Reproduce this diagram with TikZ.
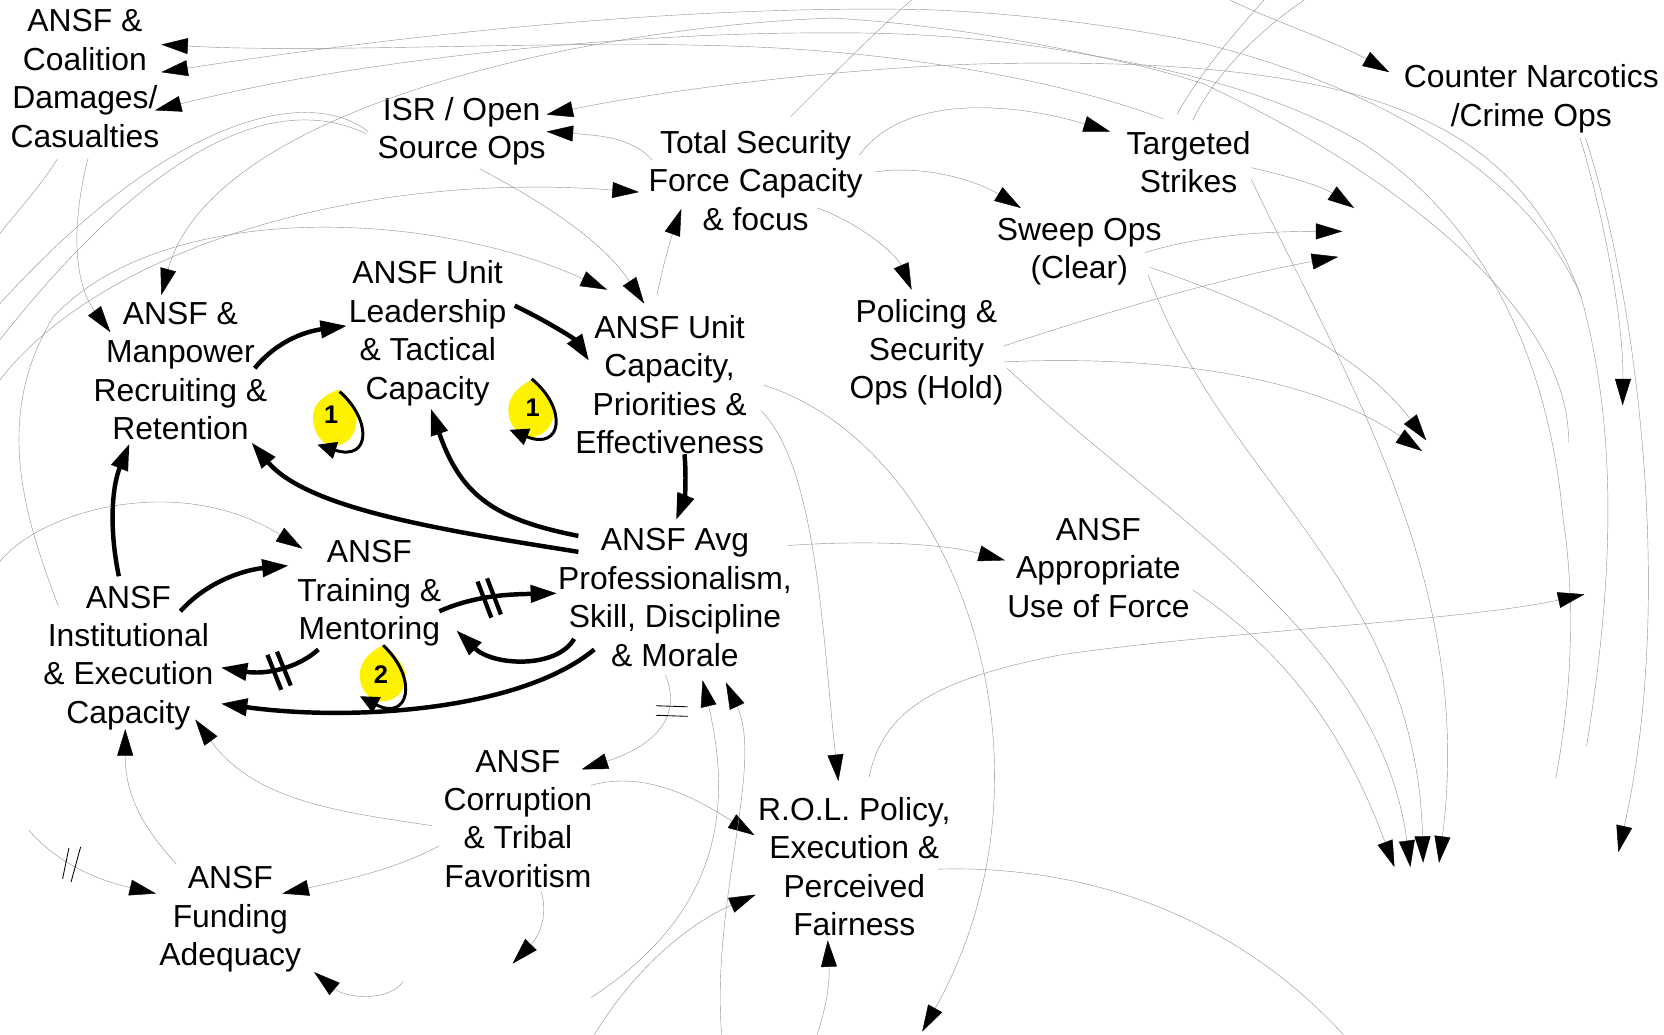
\documentclass[tikz,border=0pt]{standalone}
\usepackage{fontspec}
\setmainfont{Liberation Sans}
\usetikzlibrary{arrows.meta}
\tikzset{
  lbl/.style={inner sep=0pt,align=center,font=\fontsize{15}{18.1}\selectfont},
  num/.style={inner sep=0pt,font=\bfseries\fontsize{12}{12}\selectfont},
  thinlink/.style={line width=0.2pt,draw=black!42,-{Triangle[length=12.5pt,width=7.5pt,color=black,fill=black]}},
  thinfree/.style={line width=0.2pt,draw=black!42},
  thicklink/.style={line width=2.1pt,draw=black,-{Triangle[length=12.5pt,width=8pt,color=black,fill=black]}},
  looplink/.style={line width=1.4pt,draw=black,-{Triangle[length=9pt,width=8pt,color=black,fill=black]}},
  thinhash/.style={line width=0.4pt,draw=black},
  thickhash/.style={line width=2pt,draw=black},
  blob/.style={fill=yellow,draw=none}
}
\begin{document}
\begin{tikzpicture}[x=0.5pt,y=-0.5pt]
\useasboundingbox (0,0) rectangle (1568,975.2);
\fill[white] (0,0) rectangle (1568,975.2);
% yellow loop markers
\fill[blob] (320,367) .. controls (305,372) and (295,380) .. (295,393) .. controls (295,410) and (305,420) .. (315,420) .. controls (335,418) and (336,400) .. (336,393) .. controls (336,385) and (330,375) .. (320,367) -- cycle;
\fill[blob] (501,358) .. controls (488,364) and (479,374) .. (479,386) .. controls (479,402) and (490,412) .. (500,412) .. controls (518,410) and (522,396) .. (522,386) .. controls (522,378) and (512,366) .. (501,358) -- cycle;
\fill[blob] (361,608) .. controls (348,614) and (339,624) .. (339,636) .. controls (339,652) and (350,661) .. (360,661) .. controls (378,660) and (382,646) .. (382,636) .. controls (382,628) and (372,616) .. (361,608) -- cycle;
% variable labels
\node[lbl] (coal) at (80,74) {ANSF \&\\Coalition\\Damages/\\Casualties};
\node[lbl] (isr) at (435,123.5) {ISR / Open\\Source Ops};
\node[lbl] (total) at (712,170) {Total Security\\Force Capacity\\\& focus};
\node[lbl] (targ) at (1120,153) {Targeted\\Strikes};
\node[lbl] (counter) at (1443,93) {Counter Narcotics\\/Crime Ops};
\node[lbl] (sweep) at (1017,237) {Sweep Ops\\(Clear)};
\node[lbl] (polic) at (873,332) {Policing \&\\Security\\Ops (Hold)};
\node[lbl] (lead) at (403,314) {ANSF Unit\\Leadership\\\& Tactical\\Capacity};
\node[lbl] (manp) at (170,349.5) {ANSF \&\\Manpower\\Recruiting \&\\Retention};
\node[lbl] (ucap) at (631,362.5) {ANSF Unit\\Capacity,\\Priorities \&\\Effectiveness};
\node[lbl] (avg) at (636,563) {ANSF Avg\\Professionalism,\\Skill, Discipline\\\& Morale};
\node[lbl] (train) at (348,559) {ANSF\\Training \&\\Mentoring};
\node[lbl] (inst) at (121,620) {ANSF\\Institutional\\\& Execution\\Capacity};
\node[lbl] (appr) at (1035,535) {ANSF\\Appropriate\\Use of Force};
\node[lbl] (corr) at (488,771.5) {ANSF\\Corruption\\\& Tribal\\Favoritism};
\node[lbl] (rol) at (805,816.5) {R.O.L. Policy,\\Execution \&\\Perceived\\Fairness};
\node[lbl] (fund) at (217,866.5) {ANSF\\Funding\\Adequacy};
\node[num] (la) at (312,391) {1};
\node[num] (lb) at (502,384) {1};
\node[num] (lc) at (359,636) {2};
% free ends
\coordinate (fa) at (1495,703);
\coordinate (fb) at (1478,417);
\coordinate (fc) at (1466,733);
\coordinate (fj) at (1490,280);
\coordinate (fd) at (0,286);
\coordinate (fe) at (0,320);
\coordinate (ff) at (0,358);
\coordinate (fg) at (0,220);
\coordinate (fh) at (0,529);
\coordinate (fi) at (27,782);
\coordinate (fk) at (380,925);
\coordinate (fl) at (483,908);
\coordinate (fm) at (557,940);
\coordinate (fn) at (680,975);
\coordinate (fo) at (560,975);
\coordinate (fp) at (770,975);
\coordinate (fq) at (869,972);
\coordinate (fr) at (1493,560);
\coordinate (fs) at (1266,975);
\coordinate (ft) at (1314,817);
\coordinate (fu) at (1329,817);
\coordinate (fv) at (1341,813);
\coordinate (fw) at (1356,813);
\coordinate (fx) at (1344,415);
\coordinate (fy) at (1340,425);
\coordinate (fz) at (1261,242);
\coordinate (ga) at (1265,218);
\coordinate (gb) at (1276,196);
\coordinate (gc) at (1159,0);
\coordinate (gd) at (1191,0);
\coordinate (ge) at (1229,0);
\coordinate (gf) at (859,0);
\coordinate (gg) at (1529,382);
\coordinate (gh) at (1525,803);
% long arcs
\draw[thinlink] ([shift={(-24,-41)}]targ.center) .. controls (1000,75) and (860,55) .. (784,49) .. controls (600,32) and (330,52) .. ([shift={(72,-32)}]coal.center);
\draw[thinlink] (fa) .. controls (1525,520) and (1520,390) .. (fj) .. controls (1440,160) and (1290,80) .. (1134,41) .. controls (1060,25) and (960,12) .. (869,9) .. controls (650,5) and (400,30) .. ([shift={(72,-6)}]coal.center);
\draw[thinlink] (fb) .. controls (1480,300) and (1330,170) .. (1134,79) .. controls (1030,45) and (900,30) .. (784,31) .. controls (600,30) and (340,55) .. ([shift={(66,30)}]coal.center);
\draw[thinlink] (fc) .. controls (1482,650) and (1484,560) .. (1473,490) .. controls (1460,340) and (1400,210) .. (1284,135) .. controls (1200,85) and (1100,65) .. (1034,53) .. controls (950,35) and (870,22) .. (784,17) .. controls (560,25) and (200,100) .. ([shift={(-18,-71.5)}]manp.center);
\draw[thinlink] (fj) .. controls (1450,170) and (1380,120) .. (1284,91) .. controls (1180,60) and (1040,58) .. (934,60) .. controls (830,62) and (650,80) .. ([shift={(80,-15.5)}]isr.center);
\draw[thinlink] ([shift={(-97,-19)}]total.center) .. controls (595,130) and (570,128) .. ([shift={(80,0.5)}]isr.center);
\draw[thinfree] ([shift={(-88,0.5)}]isr.center) .. controls (290,80) and (160,110) .. (fd);
\draw[thinfree] ([shift={(-90,2.5)}]isr.center) .. controls (280,95) and (170,105) .. (fe);
\draw[thinlink] (ff) .. controls (90,240) and (330,160) .. ([shift={(-110,11)}]total.center);
\draw[thinlink] ([shift={(-66,-49)}]inst.center) .. controls (20,480) and (-5,390) .. (50,299) .. controls (150,190) and (400,195) .. ([shift={(-59,-89.5)}]ucap.center);
\draw[thinlink] ([shift={(17,35.5)}]isr.center) .. controls (520,195) and (570,230) .. ([shift={(-24,-76.5)}]ucap.center);
\draw[thinlink] ([shift={(-12,-84.5)}]ucap.center) .. controls (625,250) and (632,225) .. ([shift={(-70,27)}]total.center);
\draw[thinlink] ([shift={(3,75)}]coal.center) .. controls (65,220) and (72,270) .. ([shift={(-66,-36.5)}]manp.center);
\draw[thinfree] ([shift={(-26,76)}]coal.center) .. controls (35,180) and (15,200) .. (fg);
\draw[thinlink] (fh) .. controls (40,480) and (170,445) .. ([shift={(-63,-42)}]train.center);
\draw[thinlink] ([shift={(-81,6.5)}]corr.center) .. controls (320,765) and (240,755) .. ([shift={(63,58)}]inst.center);
\draw[thinlink] ([shift={(-51,-52.5)}]fund.center) .. controls (135,780) and (118,750) .. ([shift={(-3,67)}]inst.center);
\draw[thinlink] ([shift={(-74,25.5)}]corr.center) .. controls (370,820) and (330,828) .. ([shift={(49,-24.5)}]fund.center);
\draw[thinlink] (fi) .. controls (55,815) and (95,830) .. ([shift={(-70,-24.5)}]fund.center);
\draw[thinlink] (fk) .. controls (365,945) and (325,940) .. ([shift={(79,49.5)}]fund.center);
\draw[thinlink] ([shift={(22,68.5)}]corr.center) .. controls (516,860) and (510,880) .. (fl);
\draw[thinlink] ([shift={(-9,73)}]avg.center) .. controls (645,680) and (610,705) .. ([shift={(60,-46.5)}]corr.center);
\draw[thinlink] ([shift={(69,-31.5)}]corr.center) .. controls (610,725) and (660,755) .. ([shift={(-94,-29.5)}]rol.center);
\draw[thinlink] (fm) .. controls (680,860) and (690,760) .. ([shift={(26,78)}]avg.center);
\draw[thinlink] (fn) .. controls (670,850) and (720,720) .. ([shift={(48,80)}]avg.center);
\draw[thinlink] (fo) .. controls (600,910) and (650,870) .. ([shift={(-93,26.5)}]rol.center);
\draw[thinlink] (fp) .. controls (778,950) and (782,930) .. ([shift={(-25,69.5)}]rol.center);
\draw[thinlink] ([shift={(86,24.5)}]ucap.center) .. controls (770,440) and (775,600) .. ([shift={(-15,-80.5)}]rol.center);
\draw[thinlink] ([shift={(89,0.5)}]ucap.center) .. controls (900,420) and (1010,720) .. (fq);
\draw[thinlink] ([shift={(107,-49)}]avg.center) .. controls (800,510) and (880,510) .. ([shift={(-88,-7)}]appr.center);
\draw[thinlink] ([shift={(14,-84.5)}]rol.center) .. controls (832,670) and (880,640) .. (1000,617) .. controls (1150,595) and (1380,585) .. (fr);
\draw[thinfree] ([shift={(79,2.5)}]rol.center) .. controls (1020,815) and (1160,860) .. (fs);
\draw[thinlink] ([shift={(89,21)}]appr.center) .. controls (1220,620) and (1270,700) .. (ft);
\draw[thinlink] ([shift={(76,15)}]polic.center) .. controls (1100,490) and (1300,600) .. (fu);
\draw[thinlink] ([shift={(65,22)}]sweep.center) .. controls (1150,450) and (1335,550) .. (fv);
\draw[thinlink] ([shift={(59,16)}]targ.center) .. controls (1270,360) and (1390,550) .. (fw);
\draw[thinlink] ([shift={(67,15)}]sweep.center) .. controls (1180,285) and (1280,330) .. (fx);
\draw[thinlink] ([shift={(73,9)}]polic.center) .. controls (1080,335) and (1230,350) .. (fy);
\draw[thinlink] ([shift={(73,-6)}]polic.center) .. controls (1040,295) and (1150,262) .. (fz);
\draw[thinlink] ([shift={(62,1)}]sweep.center) .. controls (1130,222) and (1190,218) .. (ga);
\draw[thinlink] ([shift={(59,5)}]targ.center) .. controls (1210,165) and (1245,175) .. (gb);
\draw[thinlink] ([shift={(98,-24)}]total.center) .. controls (850,90) and (950,95) .. ([shift={(-74,-29)}]targ.center);
\draw[thinlink] ([shift={(113,-8)}]total.center) .. controls (870,155) and (920,170) .. ([shift={(-55,-41)}]sweep.center);
\draw[thinlink] ([shift={(58,26)}]total.center) .. controls (810,210) and (845,240) .. ([shift={(-14,-59)}]polic.center);
\draw[thinlink] (gc) .. controls (1200,20) and (1260,40) .. ([shift={(-134,-25)}]counter.center);
\draw[thinfree] ([shift={(-11,-45)}]targ.center) .. controls (1130,70) and (1160,35) .. (gd);
\draw[thinfree] ([shift={(4,-40)}]targ.center) .. controls (1145,70) and (1185,30) .. (ge);
\draw[thinfree] ([shift={(33,-60)}]total.center) .. controls (790,65) and (830,25) .. (gf);
\draw[thinlink] ([shift={(46,37)}]counter.center) .. controls (1510,200) and (1530,300) .. (gg);
\draw[thinlink] ([shift={(51,37)}]counter.center) .. controls (1540,270) and (1580,560) .. (gh);
% thick loop links
\draw[thicklink] ([shift={(70,-2.5)}]manp.center) .. controls (262,320) and (290,312) .. ([shift={(-76,-7)}]lead.center);
\draw[thicklink] ([shift={(82,-26)}]lead.center) .. controls (520,305) and (542,320) .. ([shift={(-76,-22.5)}]ucap.center);
\draw[thicklink] ([shift={(-91,-58)}]avg.center) .. controls (470,490) and (435,470) .. ([shift={(3,71)}]lead.center);
\draw[thicklink] ([shift={(-91,-43)}]avg.center) .. controls (420,500) and (290,480) .. ([shift={(67,67.5)}]manp.center);
\draw[thicklink] ([shift={(14,65.5)}]ucap.center) .. controls (647,450) and (645,470) .. ([shift={(1,-73)}]avg.center);
\draw[thicklink] ([shift={(-9,-77)}]inst.center) .. controls (103,500) and (105,460) .. ([shift={(-48,68.5)}]manp.center);
\draw[thicklink] ([shift={(49,-44)}]inst.center) .. controls (195,548) and (230,537) .. ([shift={(-76,-26)}]train.center);
\draw[thicklink] ([shift={(66,17)}]train.center) .. controls (450,560) and (485,560) .. ([shift={(-111,-4)}]avg.center);
\draw[thicklink] ([shift={(-95,39)}]avg.center) .. controls (525,630) and (465,628) .. ([shift={(82,35)}]train.center);
\draw[thicklink] ([shift={(-48,53)}]train.center) .. controls (280,630) and (250,636) .. ([shift={(87,9)}]inst.center);
\draw[thicklink] ([shift={(-76,49)}]avg.center) .. controls (490,670) and (330,680) .. ([shift={(87,43)}]inst.center);
% loop arrows
\draw[looplink] ([shift={(8,-22)}]la.center) .. controls (350,395) and (350,435) .. ([shift={(-13,28)}]la.center);
\draw[looplink] ([shift={(-1,-27)}]lb.center) .. controls (535,385) and (530,425) .. ([shift={(-22,21)}]lb.center);
\draw[looplink] ([shift={(2,-28)}]lc.center) .. controls (395,640) and (385,680) .. ([shift={(-20,20)}]lc.center);
% delay marks
\draw[thinhash] (76,798) -- (67,831);
\draw[thinhash] (65,799) -- (59,828);
\draw[thinhash] (618,665) -- (648,666);
\draw[thinhash] (618,674) -- (648,675);
\draw[thickhash] (450,548) -- (463,582);
\draw[thickhash] (459,545) -- (472,579);
\draw[thickhash] (252,617) -- (265,650);
\draw[thickhash] (261,614) -- (274,646);
\end{tikzpicture}
\end{document}
